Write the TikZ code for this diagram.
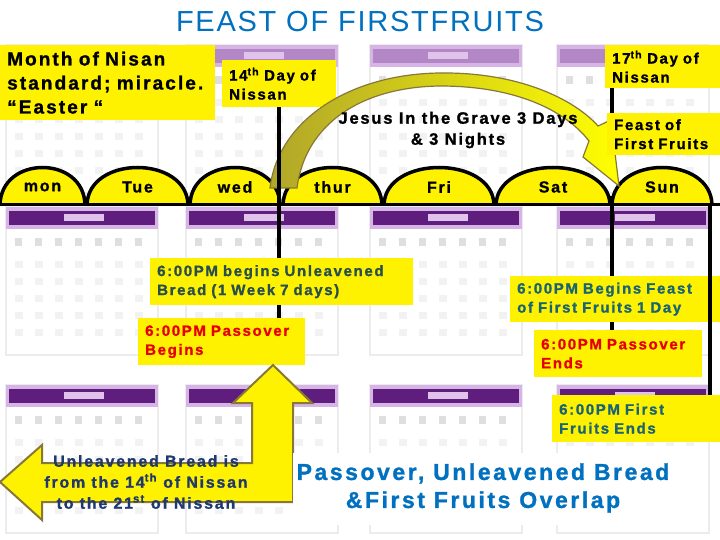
\documentclass[tikz,border=0pt]{standalone}
\usepackage{fontspec}
\setmainfont{Liberation Sans}
\newfontfamily\wide[LetterSpace=11, BoldFeatures={FakeBold=1.2}]{Liberation Sans}

\definecolor{slideblue}{RGB}{0,112,192}
\definecolor{calpurple}{RGB}{95,30,125}
\definecolor{callight}{RGB}{215,180,230}
\definecolor{olivearrow}{RGB}{176,166,42}
\definecolor{oliveline}{RGB}{135,120,55}
\definecolor{darkteal}{RGB}{25,100,115}
\definecolor{slategreen}{RGB}{40,78,78}
\definecolor{navytext}{RGB}{31,56,110}
\definecolor{passred}{RGB}{230,0,0}

% faded month sheet in the background
\newcommand{\calblock}[3]{
  \draw[gray!15, line width=2pt, fill=white] (#1,#2) rectangle (#1+152,#2+148);
  \fill[callight] (#1,#2) rectangle (#1+152,#2+22);
  \fill[#3] (#1+3,#2+4) rectangle (#1+149,#2+18);
  \fill[callight!80] (#1+58,#2+7) rectangle (#1+98,#2+14);
  \foreach \col in {0,...,6} {
    \fill[gray!25] (#1+9+\col*20,#2+31) rectangle +(7,8);
    \foreach \row in {1,...,5}
      \fill[gray!10] (#1+9+\col*20,#2+37+\row*17) rectangle +(8,7);
  }
}

% yellow dome with the day name
\newcommand{\daydome}[4]{
  \draw[dome] (#2,205) .. controls (#2+1,155) and (#3-1,155) .. (#3,205);
  \node[daylbl] (#1) at ({(#2+#3)/2},187) {#4};
}

\tikzset{
  ybox/.style={fill=yellow, anchor=north west, inner xsep=7pt, inner ysep=0pt,
    align=left, font=\wide\bfseries\fontsize{15}{19}\selectfont},
  dome/.style={fill=yellow, draw=black, line width=3.5pt},
  daylbl/.style={font=\wide\bfseries\fontsize{16}{19}\selectfont},
  sep/.style={line width=4pt},
  bigarrow/.style={fill=yellow, draw=oliveline, line width=2pt, line join=miter}
}

\begin{document}
\begin{tikzpicture}[x=1pt, y=-1pt]
  \useasboundingbox (0,0) rectangle (720,540);
  \fill[white] (0,0) rectangle (720,540);

  % --- Background: calendar sheets ---
  \foreach \cx in {6,186,370,557} {
    \calblock{\cx}{45}{callight!70!calpurple}
    \calblock{\cx}{207}{calpurple}
    \calblock{\cx}{385}{calpurple}
  }

  % --- Title ---
  \node[font=\fontsize{29}{32}\selectfont\addfontfeature{LetterSpace=6}, text=slideblue] (title) at (360,22) {FEAST OF FIRSTFRUITS};

  % --- Week row ---
  \daydome{mon}{0}{85}{mon}
  \daydome{tue}{87}{188}{Tue}
  \daydome{wed}{190}{280}{wed}
  \daydome{thu}{283}{382}{thur}
  \daydome{fri}{384}{494}{Fri}
  \daydome{sat}{496}{610}{Sat}
  \daydome{sun}{612}{712}{Sun}
  \draw[line width=3pt] (0,205) -- (720,205);

  % --- Upper labels ---
  \node[ybox, text width=201pt, minimum height=75pt, font=\wide\bfseries\fontsize{19}{24}\selectfont] (nisan) at (0,45)
    {Month of Nisan\\standard; miracle.\\“Easter “};
  \node[ybox, text width=100pt, minimum height=47pt] (day14) at (222,60) {14\textsuperscript{th} Day of\\Nissan};
  \node[ybox, text width=101pt, minimum height=43pt] (day17) at (605,45) {17\textsuperscript{th} Day of\\Nissan};

  % --- Day markers ---
  \coordinate (rtop) at ([xshift=7pt]day17.south west);
  \coordinate (redge) at (710,205);

  % --- Curved arrow: three days and three nights ---
  \draw[draw=oliveline, line width=1.2pt, left color=olivearrow, right color=yellow]
    (270,188) .. controls (278,120) and (350,74) .. (440,73)
    .. controls (520,72) and (575,100) .. (598,126)
    -- (611,120) -- (619,186) -- (583,157) -- (589,141)
    .. controls (565,110) and (515,86) .. (440,86)
    .. controls (360,87) and (305,125) .. (297,188) -- cycle;
  \node[font=\wide\bfseries\fontsize{16.5}{21}\selectfont, align=center] (grave) at (458,130)
    {Jesus In the Grave 3 Days\\\& 3 Nights};

  \node[ybox, text width=99pt, minimum height=42pt] (feast) at (607,113) {Feast of\\First Fruits};

  % --- Evening boxes ---
  \node[ybox, text width=249pt, minimum height=47pt, text=slategreen] (unleav) at (150,258)
    {6:00PM begins Unleavened\\Bread (1 Week 7 days)};
  \node[ybox, text width=153pt, minimum height=47pt, text=passred] (pbeg) at (138,318)
    {6:00PM Passover\\Begins};
  \node[ybox, text width=196pt, minimum height=46pt, text=darkteal] (ffbeg) at (510,276)
    {6:00PM Begins Feast\\of First Fruits 1 Day};
  \node[ybox, text width=154pt, minimum height=47pt, text=passred] (pend) at (534,330)
    {6:00PM Passover\\Ends};
  \node[ybox, text width=154pt, minimum height=47pt, text=darkteal] (ffend) at (552,395)
    {6:00PM First\\Fruits Ends};

  % --- Separator lines ---
  \draw[sep] (day14.south) -- (day14.south |- unleav.north);
  \draw[sep] (day14.south |- unleav.south) -- (day14.south |- pbeg.north);
  \draw[sep] (rtop) -- (rtop |- feast.north);
  \draw[sep] (rtop |- sun.south) -- (rtop |- ffbeg.north);
  \draw[sep] (rtop |- ffbeg.south) -- (rtop |- pend.north);
  \draw[sep] (redge) -- (redge |- ffend.north);

  % --- Bent arrow: Unleavened Bread ---
  \draw[bigarrow] (0,482) -- (42,445) -- (42,463) -- (252,463) -- (252,403) -- (233,403)
    -- (273,365) -- (312,403) -- (293,403) -- (293,502) -- (42,502) -- (42,520) -- cycle;
  \node[font=\wide\bfseries\fontsize{16}{21}\selectfont, text=navytext, align=center] (ubread) at (146,482)
    {Unleavened Bread is\\from the 14\textsuperscript{th} of Nissan\\to the 21\textsuperscript{st} of Nissan};

  % --- Overlap note ---
  \fill[white] (293,453) rectangle (700,525);
  \node[font=\wide\bfseries\fontsize{23}{28}\selectfont, text=slideblue, align=center] (overlap) at (483,488)
    {Passover, Unleavened Bread\\\&First Fruits Overlap};

\end{tikzpicture}
\end{document}
